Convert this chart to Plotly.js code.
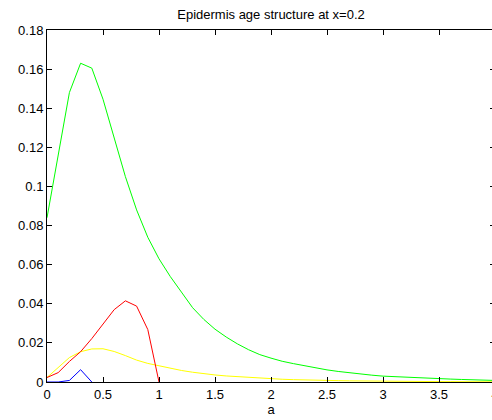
<!DOCTYPE html>
<html>
<head>
<meta charset="utf-8">
<script src="https://cdn.plot.ly/plotly-3.0.1.min.js"></script>
<style>
html,body{margin:0;padding:0;overflow:hidden;background:#fff;}
#chart{width:500px;height:420px;}
</style>
</head>
<body>
<div id="chart"></div>
<script>
// age grid
const ageGreen = [0,0.1,0.2,0.3,0.4,0.5,0.6,0.7,0.8,0.9,1.0,1.1,1.2,1.3,1.4,1.5,1.6,1.7,1.8,1.9,2.0,2.1,2.2,2.3,2.4,2.5,2.6,2.7,2.8,2.9,3.0,3.1,3.2,3.3,3.4,3.5,3.6,3.7,3.8,3.9,4.0];
const green = [0.084,0.116,0.148,0.163,0.1605,0.1446,0.125,0.105,0.088,0.074,0.063,0.054,0.046,0.038,0.032,0.027,0.023,0.0195,0.0165,0.014,0.0122,0.0106,0.0094,0.0082,0.0071,0.0062,0.0054,0.0047,0.0041,0.0035,0.0030,0.0027,0.0024,0.0021,0.0019,0.0017,0.0015,0.0013,0.0011,0.0009,0.0008];
const ageYellow = ageGreen;
const yellow = [0.0023,0.0075,0.0125,0.0155,0.0169,0.0170,0.0156,0.0135,0.0112,0.0095,0.0082,0.0070,0.0059,0.0050,0.0042,0.0036,0.0031,0.0027,0.0023,0.0020,0.0017,0.0014,0.0012,0.0010,0.0009,0.0008,0.0007,0.0006,0.0005,0.0004,0.0004,0.0003,0.0003,0.0003,0.0002,0.0002,0.0002,0.0002,0.0001,0.0001,0.0001];
const ageRed = [0,0.1,0.2,0.3,0.4,0.5,0.6,0.7,0.8,0.9,1.0];
const red = [0.0023,0.0048,0.0105,0.0155,0.0222,0.0297,0.037,0.0415,0.0388,0.0268,0];
const ageBlue = [0,0.1,0.2,0.3,0.4];
const blue = [0,0,0.0008,0.0063,0];

const xTicks = [0,0.5,1,1.5,2,2.5,3,3.5,4];
const yTicks = [0,0.02,0.04,0.06,0.08,0.1,0.12,0.14,0.16,0.18];
const yTickText = ['0','0.02','0.04','0.06','0.08','0.1','0.12','0.14','0.16','0.18'];

const traces = [
  {x: ageYellow, y: yellow, mode:'lines', line:{color:'#ffff00', width:1}},
  {x: ageGreen, y: green, mode:'lines', line:{color:'#00ff00', width:1}},
  {x: ageRed, y: red, mode:'lines', line:{color:'#ff0000', width:1}},
  {x: ageBlue, y: blue, mode:'lines', line:{color:'#0000ff', width:1}}
];

const axisCommon = {
  showgrid:false, zeroline:false, showline:true, linecolor:'#000', linewidth:1,
  mirror:'ticks', ticks:'inside', ticklen:5, tickcolor:'#000', tickwidth:1,
  tickfont:{family:'Liberation Sans, Arial, sans-serif', size:13, color:'#000'}
};

const layout = {
  width:500, height:420,
  margin:{l:47, r:5, t:30, b:38},
  paper_bgcolor:'#fff', plot_bgcolor:'#fff',
  showlegend:false,
  font:{family:'Liberation Sans, Arial, sans-serif', size:13, color:'#000'},
  title:{text:'Epidermis age structure at x=0.2', x:0.5, xref:'paper', y:1-14/420, yref:'container', yanchor:'middle', font:{size:13, color:'#000'}},
  xaxis: Object.assign({}, axisCommon, {range:[0,4], tickvals:xTicks, ticktext:xTicks.map(String),
    title:{text:'a', standoff:2, font:{size:13, color:'#000'}}}),
  yaxis: Object.assign({}, axisCommon, {range:[0,0.18], tickvals:yTicks, ticktext:yTickText})
};

Plotly.newPlot('chart', traces, layout, {displayModeBar:false, staticPlot:true});
</script>
</body>
</html>
